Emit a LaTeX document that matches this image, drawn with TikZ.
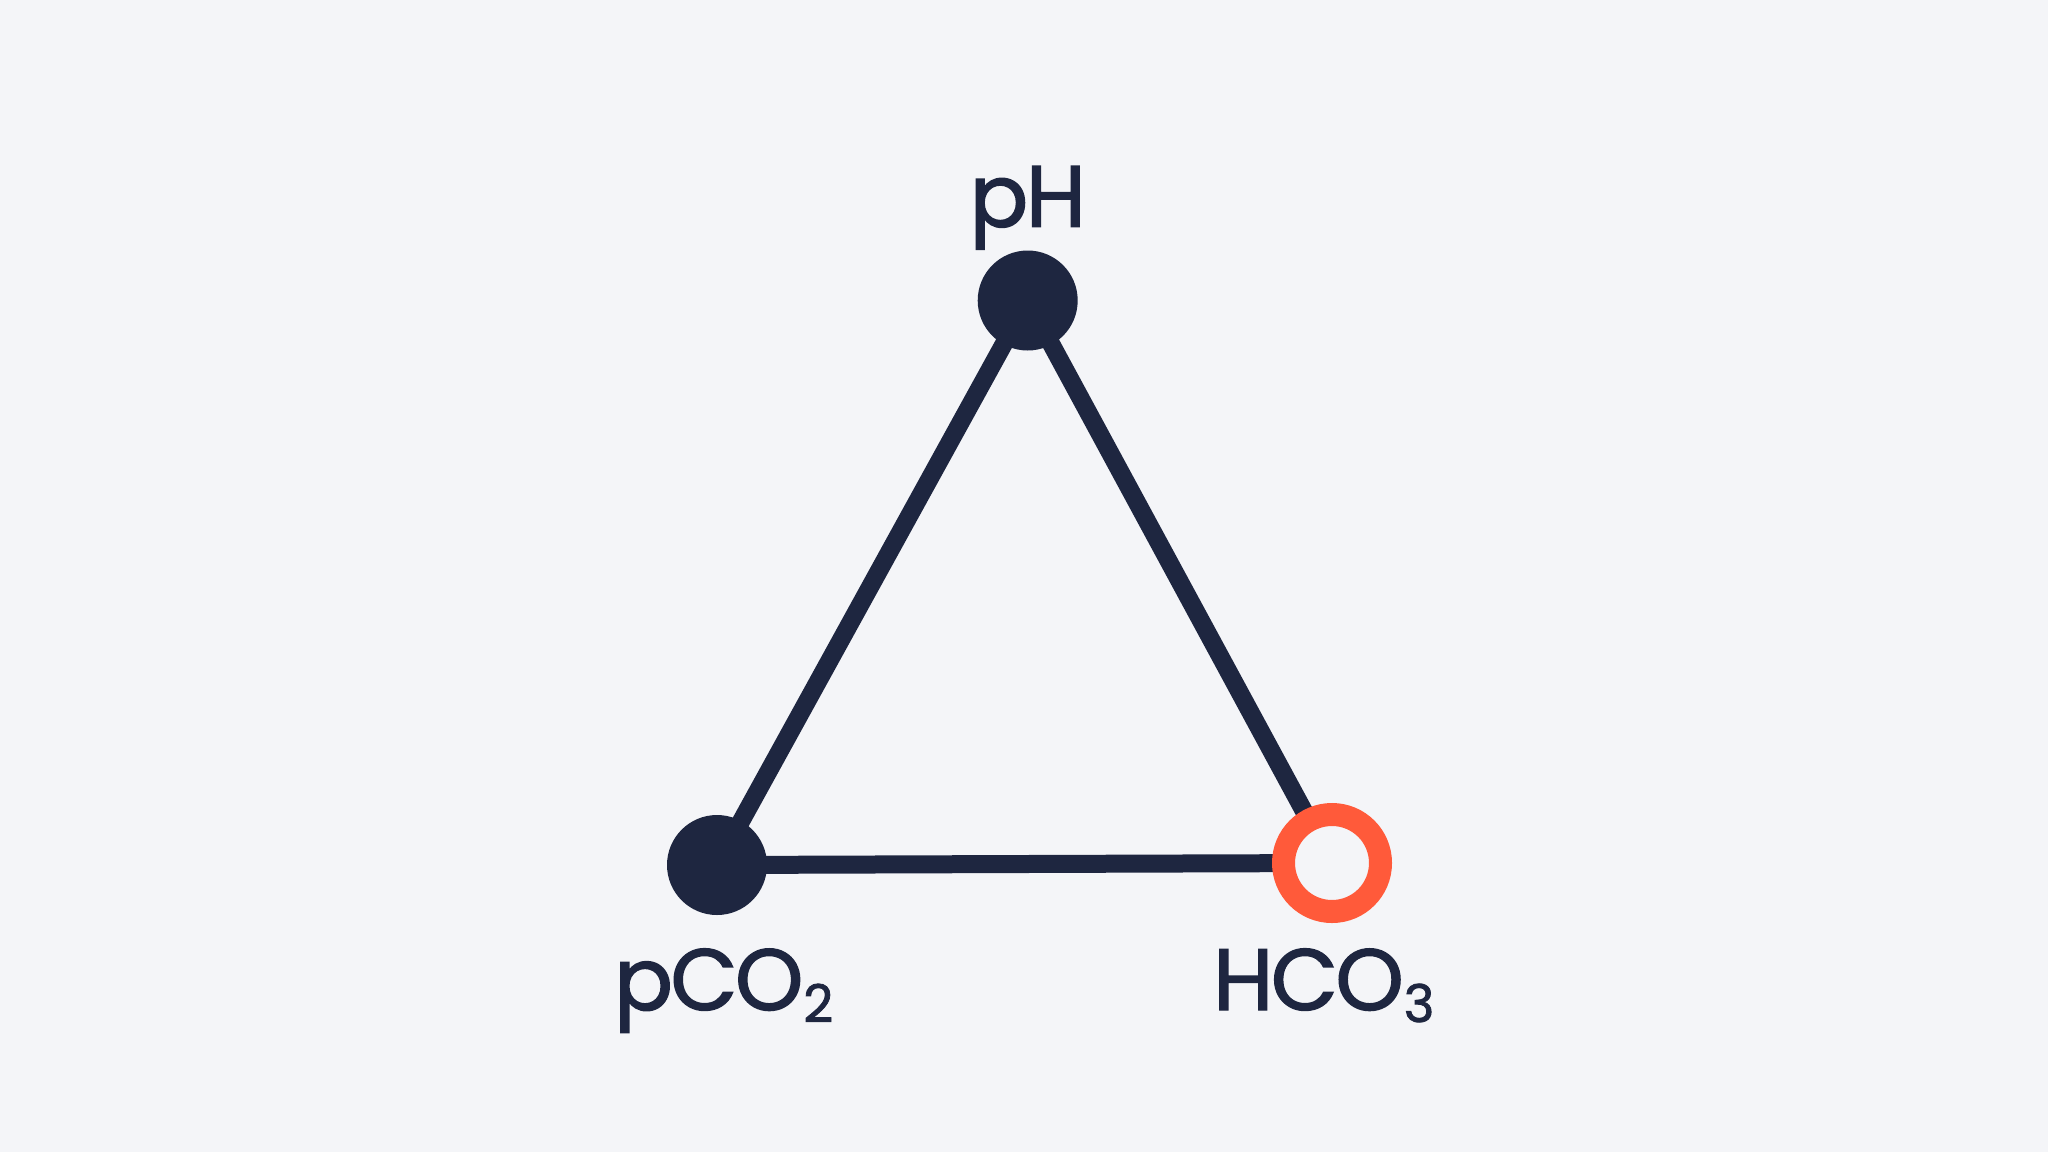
\documentclass[tikz,border=0pt]{standalone}
\usepackage{fontspec}
\setmainfont{Poppins}[FakeBold=1.6,LetterSpace=-3]
\definecolor{bg}{HTML}{F4F5F8}
\definecolor{navy}{HTML}{1E2640}
\definecolor{accent}{HTML}{FF5A3A}
\begin{document}
\begin{tikzpicture}[x=1pt,y=-1pt,
  edge/.style={draw=navy,line width=18pt},
  solid node/.style={circle,fill=navy,minimum size=100pt,inner sep=0pt},
  ring node/.style={circle,fill=bg,draw=accent,line width=23pt,minimum size=97pt,inner sep=0pt},
  lbl/.style={inner sep=0pt,text=navy,font=\fontsize{87}{87}\selectfont}]
\fill[bg] (0,0) rectangle (2048,1152);
\useasboundingbox (0,0) rectangle (2048,1152);
\coordinate (cph) at (1027.7,300.5);
\coordinate (cpco) at (717,865);
\coordinate (chco) at (1332,863);
\draw[edge] (cph) -- (cpco);
\draw[edge] (cph) -- (chco);
\draw[edge] (cpco) -- (chco);
\node[solid node] (ph) at (cph) {};
\node[solid node] (pco) at (cpco) {};
\node[ring node] (hco) at (chco) {};
\node[lbl,anchor=base] (tph) at (1027.7,226.7) {pH};
\node[lbl,anchor=base west] (tpco) at (614,1010) {pCO\raisebox{-12pt}{\fontsize{52}{52}\selectfont 2}};
\node[lbl,anchor=base west] (thco) at (1213,1010) {HCO\raisebox{-12pt}{\fontsize{52}{52}\selectfont 3}};
\end{tikzpicture}
\end{document}
